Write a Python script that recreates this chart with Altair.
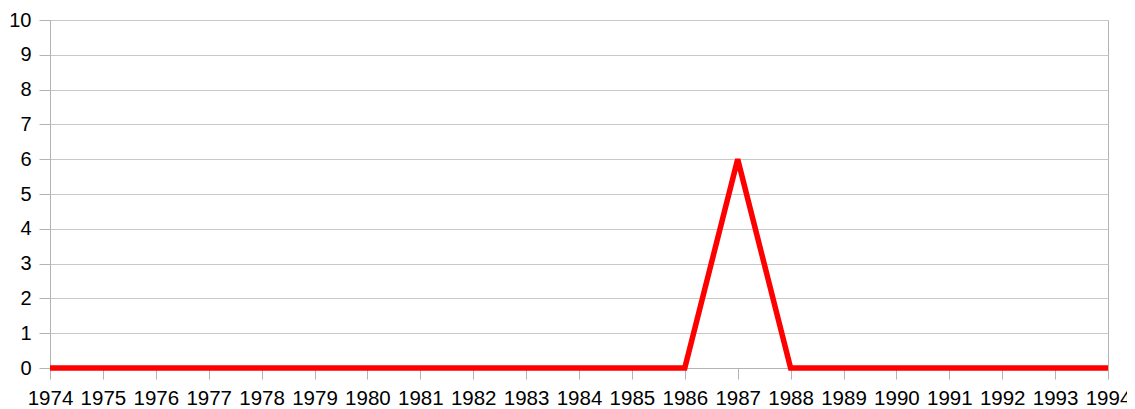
import altair as alt
import pandas as pd

years = list(range(1974, 1995))
values = [0, 0, 0, 0, 0, 0, 0, 0, 0, 0, 0, 0, 0, 6, 0, 0, 0, 0, 0, 0, 0]

df = pd.DataFrame({"year": years, "value": values})

chart = alt.Chart(df).mark_line(color="#ff0000", strokeWidth=5.5, strokeJoin="miter", clip=False).encode(
    x=alt.X("year:Q", scale=alt.Scale(domain=[1974, 1994], nice=False, zero=False),
            axis=alt.Axis(values=years, format="d", title=None, grid=False,
                          labelFontSize=20.5, labelColor="#000000", labelFont="Liberation Sans",
                          tickColor="#b3b3b3", tickSize=11, domainColor="#b3b3b3",
                          labelPadding=9, labelFlush=False, labelOverlap=False,
                          labelExpr="datum.value == 1994 ? datum.label + '\u00a0\u00a0' : datum.label")),
    y=alt.Y("value:Q", scale=alt.Scale(domain=[0, 10], nice=False),
            axis=alt.Axis(values=list(range(0, 11)), title=None, grid=True, gridColor="#c8c8c8",
                          labelFontSize=20, labelColor="#000000", labelFont="Liberation Sans",
                          tickColor="#b3b3b3", tickSize=11, domainColor="#b3b3b3",
                          labelPadding=8)),
).properties(
    width=1058, height=348,
    autosize=alt.AutoSizeParams(type="none"),
    padding={"left": 42, "top": 12, "right": 19, "bottom": 42},
).configure_view(stroke="#b3b3b3", strokeWidth=1)

chart.save("out.html", embed_options={"renderer": "svg", "actions": False})
